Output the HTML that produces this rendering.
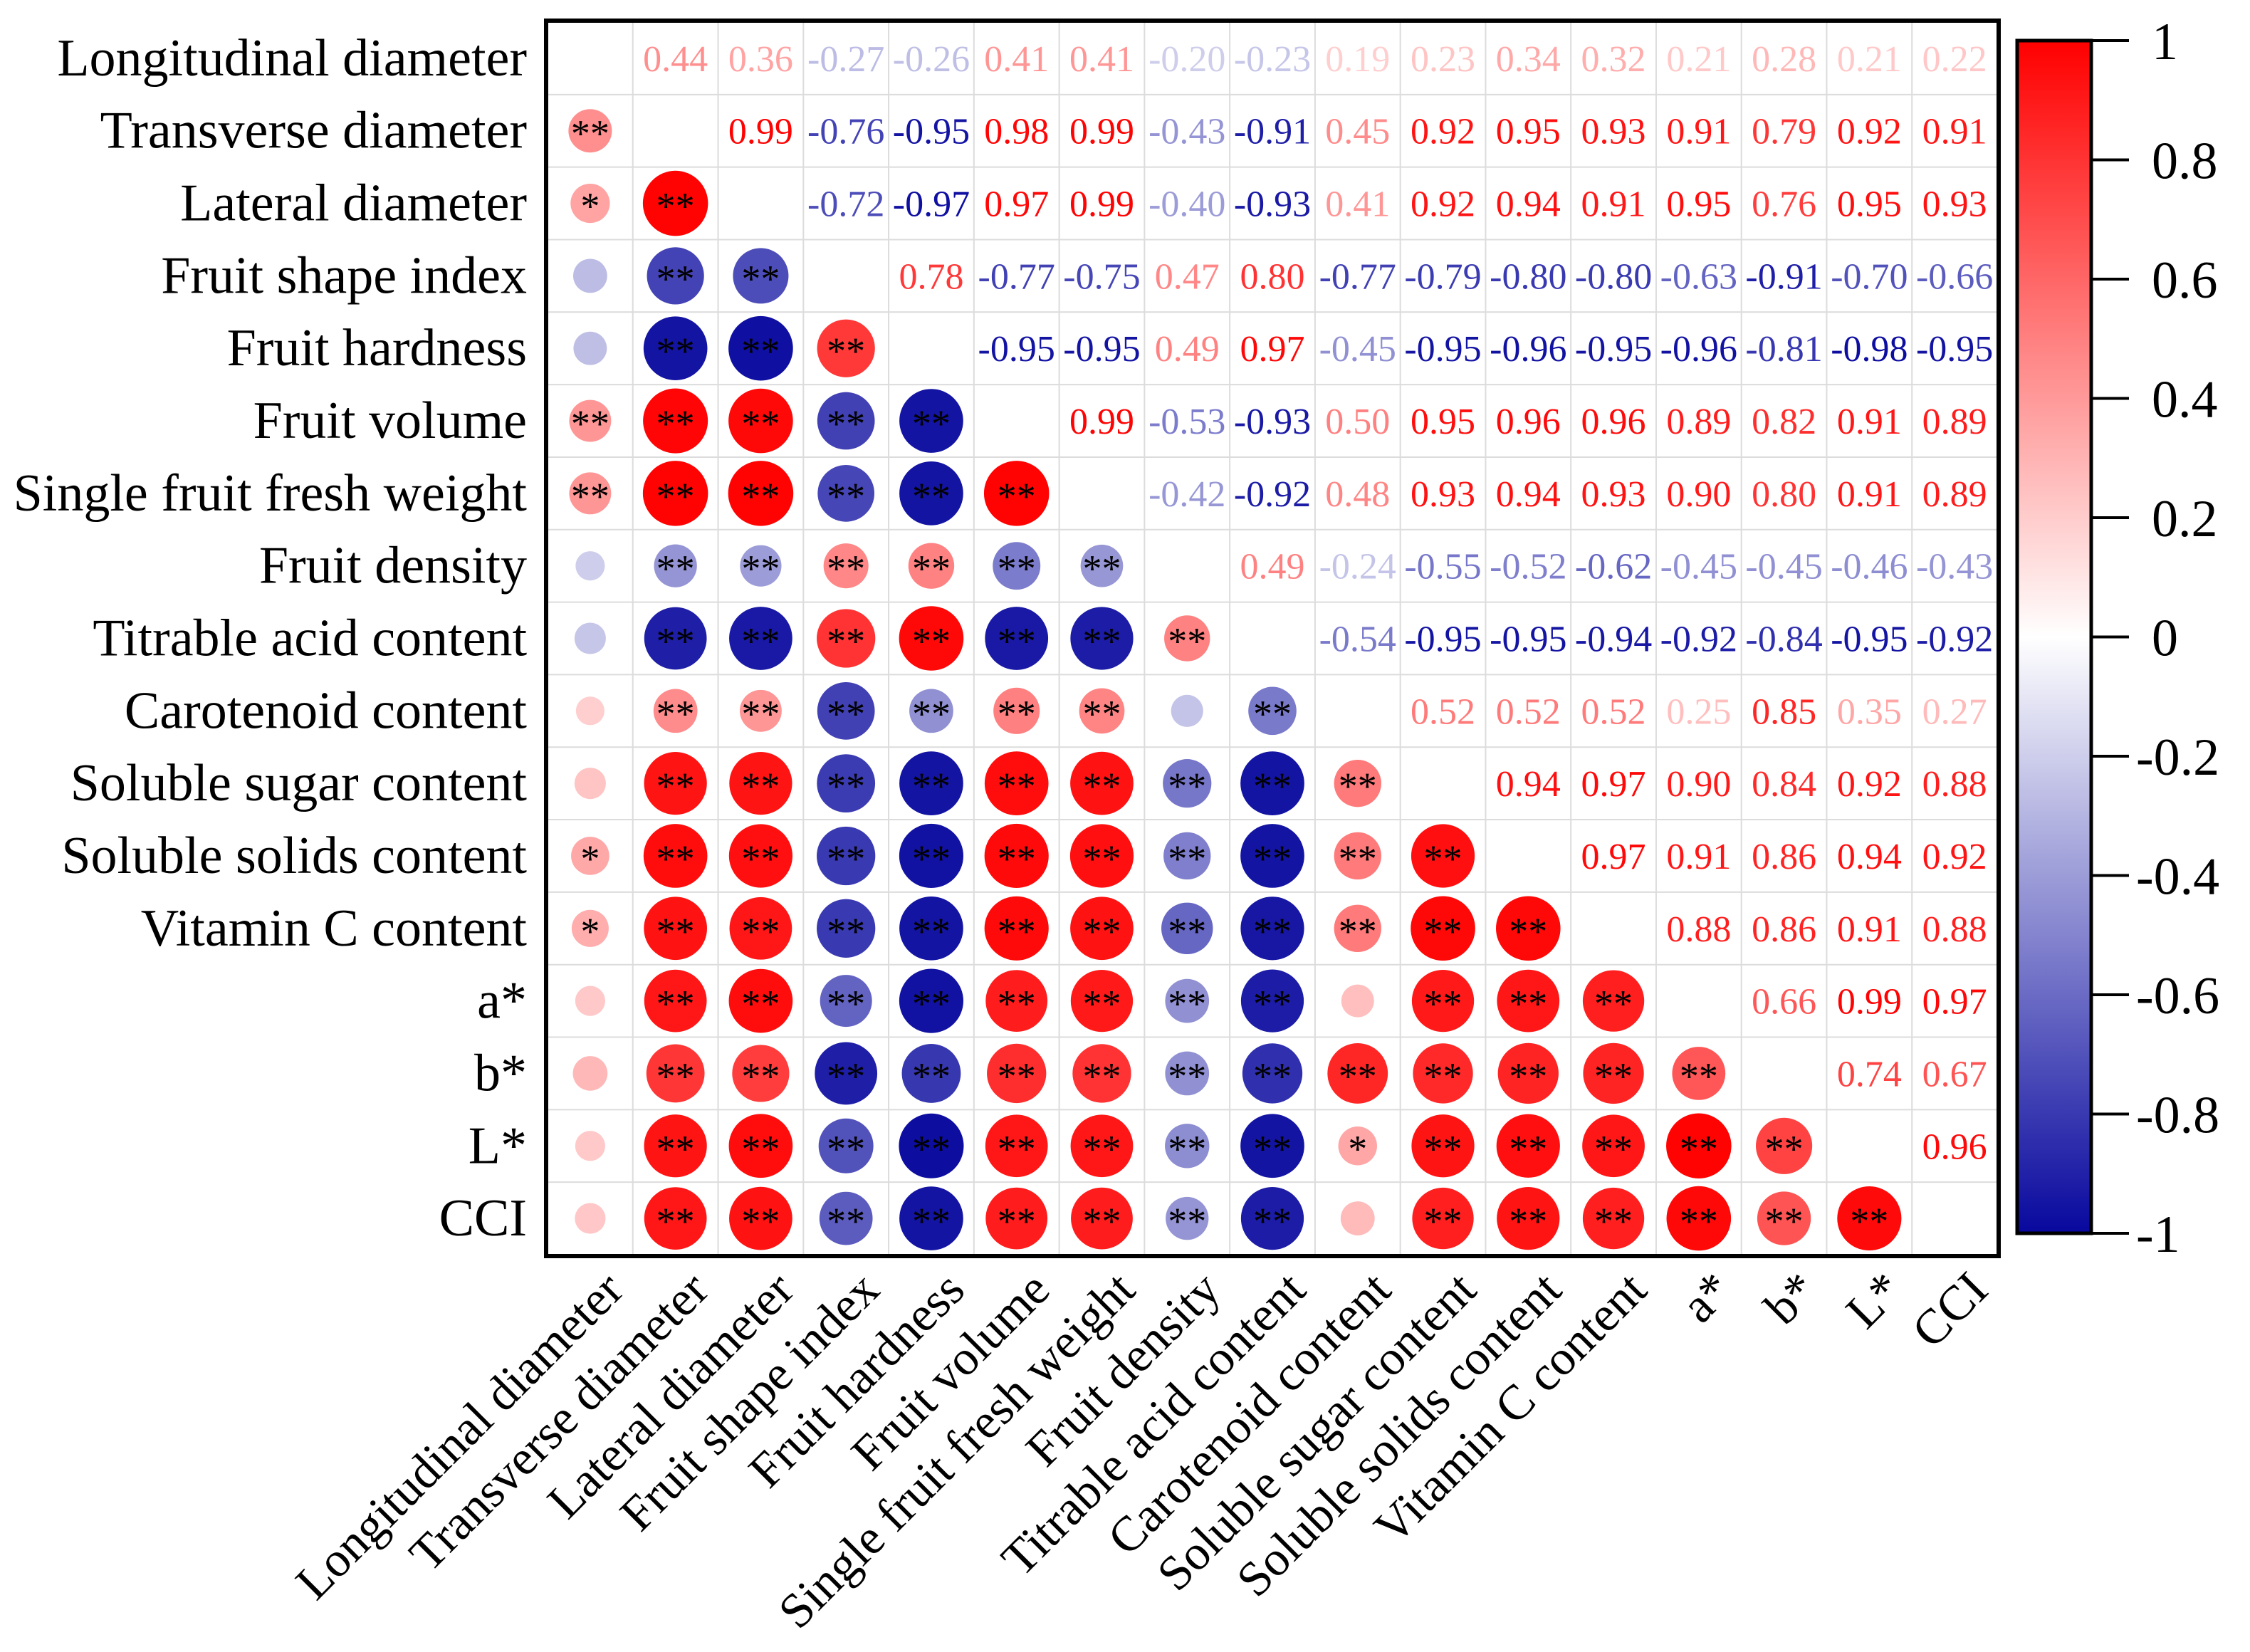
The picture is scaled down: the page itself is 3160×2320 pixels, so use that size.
<!DOCTYPE html>
<html><head><meta charset="utf-8"><style>
html,body{margin:0;padding:0;background:#fff;}
svg{display:block;font-family:"Liberation Serif",serif;}
</style></head><body>
<svg id="chart" width="3160" height="2320" viewBox="0 0 3160 2320" xmlns="http://www.w3.org/2000/svg"></svg>
<script>
const labels = ["Longitudinal diameter","Transverse diameter","Lateral diameter","Fruit shape index","Fruit hardness","Fruit volume","Single fruit fresh weight","Fruit density","Titrable acid content","Carotenoid content","Soluble sugar content","Soluble solids content","Vitamin C content","a*","b*","L*","CCI"];
const upper = [
 [0.44,0.36,-0.27,-0.26,0.41,0.41,-0.20,-0.23,0.19,0.23,0.34,0.32,0.21,0.28,0.21,0.22],
 [0.99,-0.76,-0.95,0.98,0.99,-0.43,-0.91,0.45,0.92,0.95,0.93,0.91,0.79,0.92,0.91],
 [-0.72,-0.97,0.97,0.99,-0.40,-0.93,0.41,0.92,0.94,0.91,0.95,0.76,0.95,0.93],
 [0.78,-0.77,-0.75,0.47,0.80,-0.77,-0.79,-0.80,-0.80,-0.63,-0.91,-0.70,-0.66],
 [-0.95,-0.95,0.49,0.97,-0.45,-0.95,-0.96,-0.95,-0.96,-0.81,-0.98,-0.95],
 [0.99,-0.53,-0.93,0.50,0.95,0.96,0.96,0.89,0.82,0.91,0.89],
 [-0.42,-0.92,0.48,0.93,0.94,0.93,0.90,0.80,0.91,0.89],
 [0.49,-0.24,-0.55,-0.52,-0.62,-0.45,-0.45,-0.46,-0.43],
 [-0.54,-0.95,-0.95,-0.94,-0.92,-0.84,-0.95,-0.92],
 [0.52,0.52,0.52,0.25,0.85,0.35,0.27],
 [0.94,0.97,0.90,0.84,0.92,0.88],
 [0.97,0.91,0.86,0.94,0.92],
 [0.88,0.86,0.91,0.88],
 [0.66,0.99,0.97],
 [0.74,0.67],
 [0.96]
];
const sig = [
 [],
 [2],
 [1,2],
 [0,2,2],
 [0,2,2,2],
 [2,2,2,2,2],
 [2,2,2,2,2,2],
 [0,2,2,2,2,2,2],
 [0,2,2,2,2,2,2,2],
 [0,2,2,2,2,2,2,0,2],
 [0,2,2,2,2,2,2,2,2,2],
 [1,2,2,2,2,2,2,2,2,2,2],
 [1,2,2,2,2,2,2,2,2,2,2,2],
 [0,2,2,2,2,2,2,2,2,0,2,2,2],
 [0,2,2,2,2,2,2,2,2,2,2,2,2,2],
 [0,2,2,2,2,2,2,2,2,1,2,2,2,2,2],
 [0,2,2,2,2,2,2,2,2,0,2,2,2,2,2,2]
];
const cbTicks = [1,0.8,0.6,0.4,0.2,0,-0.2,-0.4,-0.6,-0.8,-1];
const cbTickLabels = ["1","0.8","0.6","0.4","0.2","0","-0.2","-0.4","-0.6","-0.8","-1"];

const NS="http://www.w3.org/2000/svg";
const svg=document.getElementById('chart');
function mk(t,a,p){const e=document.createElementNS(NS,t);for(const k in a)e.setAttribute(k,a[k]);(p||svg).appendChild(e);return e;}
const n=labels.length;
const X0=769,Y0=31,X1=2805,Y1=1762;
const cw=(X1-X0)/n, ch=(Y1-Y0)/n;
const xc=j=>X0+cw*(j+0.5), yc=i=>Y0+ch*(i+0.5);
const M=[];for(let i=0;i<n;i++){M.push([]);for(let j=0;j<n;j++)M[i].push(i===j?1:0);}
for(let i=0;i<n-1;i++)for(let k=0;k<upper[i].length;k++){const j=i+1+k;M[i][j]=upper[i][k];M[j][i]=upper[i][k];}
function color(r){const t=Math.min(1,Math.abs(r));
 if(r>=0){return `rgb(255,${Math.round(255*(1-t))},${Math.round(255*(1-t))})`;}
 return `rgb(${Math.round(255-t*247)},${Math.round(255-t*247)},${Math.round(255-t*97)})`;}
const rad=r=>46*Math.sqrt(Math.abs(r));

const grid=mk('g',{});

for(let k=1;k<n;k++){
 mk('line',{x1:X0+cw*k,x2:X0+cw*k,y1:Y0,y2:Y1,stroke:'#dcdcdc','stroke-width':2},grid);
 mk('line',{x1:X0,x2:X1,y1:Y0+ch*k,y2:Y0+ch*k,stroke:'#dcdcdc','stroke-width':2},grid);
}
for(let i=0;i<n;i++)for(let j=0;j<n;j++){
 if(i===j)continue;const r=M[i][j];
 if(j>i){
  const t=mk('text',{x:xc(j),y:yc(i)+18,'text-anchor':'middle','font-size':52,fill:color(r)});
  
  
  t.textContent=r.toFixed(2);
 } else {
  const c=mk('circle',{cx:xc(j),cy:yc(i),r:rad(r),fill:color(r)});
  
  
  const s=sig[i][j];
  if(s>0){const t=mk('text',{x:xc(j),y:yc(i)+22,'text-anchor':'middle','font-size':54,fill:'#000'});
   
   
   t.textContent=s===2?'**':'*';}
 }
}
const b=mk('rect',{x:X0-2,y:Y0-2,width:X1-X0+4,height:Y1-Y0+4,fill:'none',stroke:'#000','stroke-width':6});

labels.forEach((l,i)=>{const t=mk('text',{x:740,y:yc(i)+24,'text-anchor':'end','font-size':74,fill:'#000'});
 t.textContent=l;});
labels.forEach((l,j)=>{const x=xc(j)+50,y=1815;
 const t=mk('text',{x:x,y:y,'text-anchor':'end','font-size':69,fill:'#000',transform:`rotate(-45 ${x} ${y})`});
 t.textContent=l;});
const CX0=2833,CX1=2937,CT=57,CB=1732;
const cy=v=>CB-(v+1)/2*(CB-CT);
const defs=mk('defs',{});
const g=mk('linearGradient',{id:'cbg',x1:0,y1:1,x2:0,y2:0},defs);
for(let k=0;k<=20;k++){const v=-1+k*0.1;mk('stop',{offset:k/20,'stop-color':color(v)},g);}
const cb=mk('rect',{x:CX0,y:CT,width:CX1-CX0,height:CB-CT,fill:'url(#cbg)',stroke:'#000','stroke-width':5});

cbTicks.forEach((v,k)=>{
 const tl=mk('line',{x1:CX1,x2:2990,y1:cy(v),y2:cy(v),stroke:'#000','stroke-width':4});
 
 const t=mk('text',{x:cbTickLabels[k].startsWith('-')?3000:3022,y:cy(v)+26,'font-size':74,fill:'#000'});
 
 t.textContent=cbTickLabels[k];
});
</script>
</body></html>
